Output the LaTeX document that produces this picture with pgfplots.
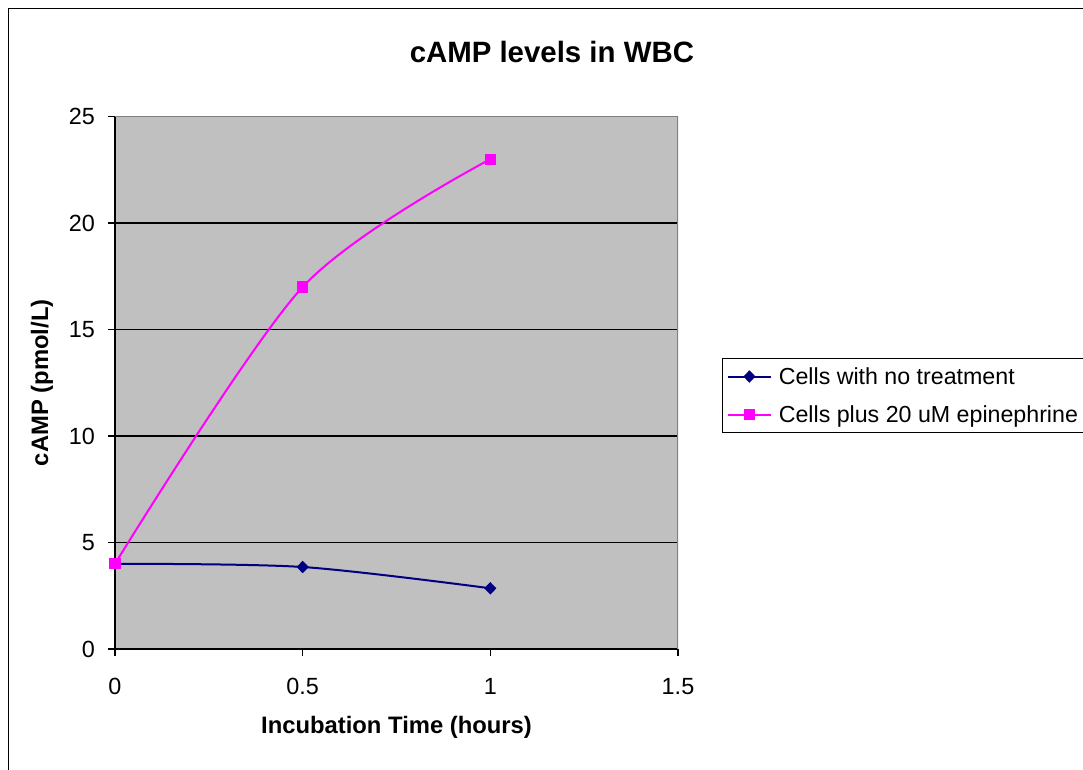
\documentclass[border=0pt]{standalone}
\usepackage{pgfplots}
\pgfplotsset{compat=1.18}
\usepackage{fontspec}
\setmainfont{Liberation Sans}
\definecolor{plotgray}{HTML}{C0C0C0}
\definecolor{framegray}{HTML}{808080}
\definecolor{navyline}{HTML}{000080}
\definecolor{magentaline}{HTML}{FF00FF}

\begin{document}
\begin{tikzpicture}[x=0.5pt,y=0.5pt]
\useasboundingbox (0,0) rectangle (1083,770);
% chart area border
\draw[black, line width=0.5pt] (8,-5) -- (8,761) -- (1090,761);
\begin{axis}[
  at={(57.5pt,60.5pt)}, anchor=south west,
  scale only axis, width=281.5pt, height=266.2pt,
  xmin=0, xmax=1.5, ymin=0, ymax=25,
  xtick={0,0.5,1,1.5}, ytick={0,5,10,15,20,25},
  xticklabels={0,0.5,1,1.5},
  axis x line*=bottom, axis y line*=left,
  axis line style={-, black, line width=0.6pt},
  axis background/.style={fill=plotgray},
  ymajorgrids, major grid style={black, line width=0.6pt},
  tick align=outside, major tick length=3.5pt,
  tick style={black, line width=0.6pt},
  /pgf/number format/assume math mode=true,
  tick label style={font=\fontsize{11.7}{14}\selectfont},
  yticklabel style={xshift=-3pt},
  xticklabel style={yshift=-7.5pt},
  title={cAMP levels in WBC},
  title style={at={(axis description cs:0.776,1.099)}, anchor=center, font=\bfseries\fontsize{14.7}{17}\selectfont},
  xlabel={Incubation Time (hours)},
  xlabel style={at={(axis description cs:0.5,-0.147)}, anchor=center, font=\bfseries\fontsize{11.9}{14}\selectfont},
  ylabel={cAMP (pmol/L)},
  ylabel style={at={(axis description cs:-0.1297,0.5)}, anchor=center, rotate=0, font=\bfseries\fontsize{11.9}{14}\selectfont},
  legend style={at={(axis description cs:1.078,0.5467)}, anchor=north west,
    draw=black, fill=white, line width=0.5pt,
    font=\fontsize{11.6}{14}\selectfont,
    inner xsep=2.5pt, inner ysep=3pt,
    row sep=7pt,
    nodes={inner xsep=1.7pt, inner ysep=1.5pt, text height=8.6pt, text depth=0.5pt},
    /tikz/every odd column/.append style={column sep=2pt}},
  legend cell align=left,
  legend image code/.code={%
    \draw[mark repeat=2,mark phase=2,#1] plot coordinates {(0pt,0pt) (10.5pt,0pt) (21pt,0pt)};},
]
\addplot[navyline, line width=1pt, smooth, mark=diamond*, mark size=2.4pt,
  mark options={xscale=1.3, solid, fill=navyline, draw=navyline}]
  coordinates {(0,4) (0.5,3.85) (1,2.85)};
\addlegendentry{Cells with no treatment}
\addplot[magentaline, line width=1pt, smooth, mark=square*, mark size=2.3pt,
  mark options={solid, fill=magentaline, draw=magentaline}]
  coordinates {(0,4) (0.5,17) (1,23)};
\addlegendentry{Cells plus 20 uM epinephrine}
% top and right edges of the plot area
\draw[framegray, line width=0.8pt] (rel axis cs:0,1) -- (rel axis cs:1,1) -- (rel axis cs:1,0);
\end{axis}
\end{tikzpicture}
\end{document}
